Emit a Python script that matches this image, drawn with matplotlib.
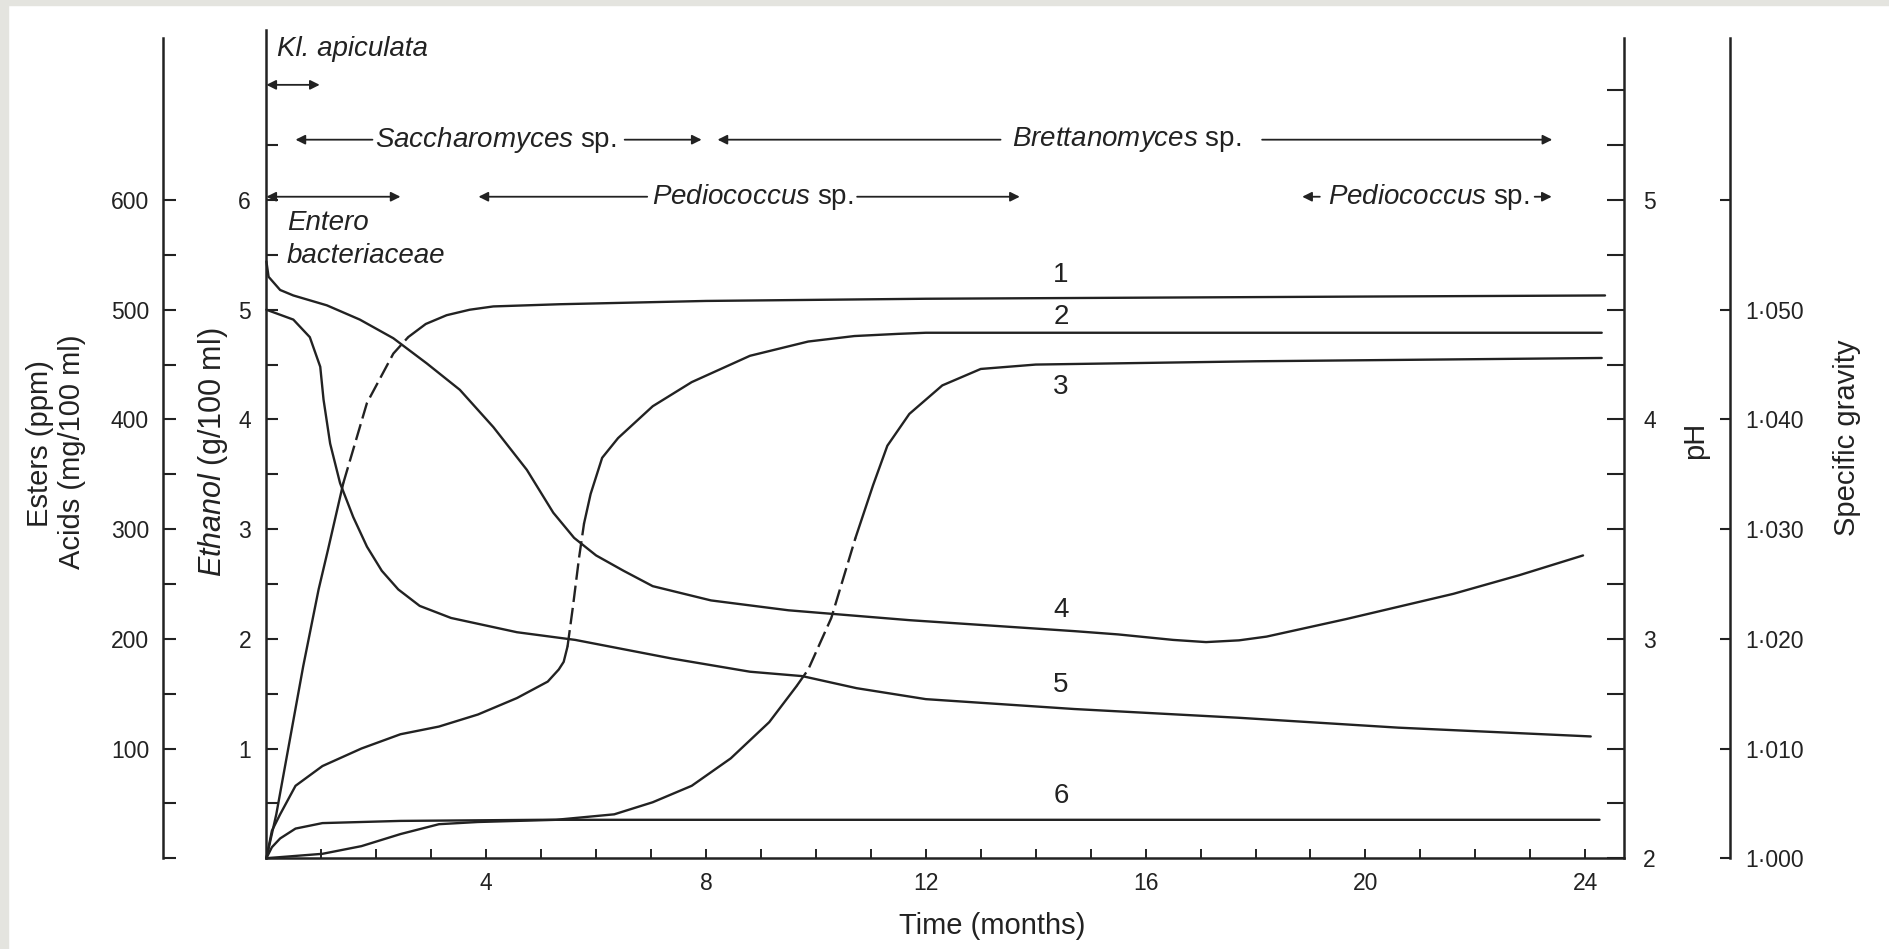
import numpy as np
import matplotlib
matplotlib.use('Agg')
import matplotlib.pyplot as plt
from matplotlib.patches import Rectangle

plt.rcParams['font.family'] = ['Liberation Sans', 'DejaVu Sans']
plt.rcParams['mathtext.fontset'] = 'custom'
plt.rcParams['mathtext.rm'] = 'Liberation Sans'
plt.rcParams['mathtext.it'] = 'Liberation Sans:italic'

INK = '#222222'

# --- data (time in months) ---
# curve 1, ethanol (g/100 ml)
t1 = [0, 0.18, 0.67, 0.95, 1.12, 1.40, 1.83, 2.31, 2.58, 2.9, 3.28, 3.7, 4.13, 5.34, 8, 12, 16, 20, 24.36]
ethanol = [0, 0.40, 1.75, 2.45, 2.81, 3.42, 4.15, 4.60, 4.75, 4.87, 4.95, 5.00, 5.03, 5.05, 5.08, 5.10, 5.11, 5.12, 5.13]

# curves 2, 3 and 6 on the esters / acids scale
t2 = [0, 0.1, 0.25, 0.53, 1.02, 1.73, 2.44, 3.14, 3.85, 4.56, 5.12, 5.32, 5.41, 5.48, 5.58, 5.69, 5.78,
      5.9, 6.11, 6.4, 7.03, 7.74, 8.8, 9.86, 10.7, 11.5, 12, 16, 20, 24.3]
curve2 = [0, 25, 40, 66, 84, 100, 113, 120, 131, 146, 161, 172, 179, 193, 230, 274, 305,
          332, 365, 383, 412, 434, 458, 471, 476, 478, 479, 479, 479, 479]

t3 = [0, 1.02, 1.73, 2.44, 3.14, 3.85, 5.27, 6.33, 7.03, 7.74, 8.45, 9.15, 9.65, 9.86,
      10.28, 10.72, 11.04, 11.3, 11.7, 12.3, 13.0, 14.0, 18, 24.3]
curve3 = [0, 4, 11, 22, 31, 33, 35, 40, 51, 66, 91, 124, 157, 172,
          219, 292, 340, 376, 405, 431, 446, 450, 453, 456]

t6 = [0, 0.1, 0.25, 0.53, 1.02, 2.44, 5, 10, 15, 20, 24.26]
curve6 = [0, 10, 18, 27, 32, 34, 35, 35, 35, 35, 35]

# curve 4, pH
t4 = [0, 0.04, 0.25, 0.49, 1.10, 1.70, 2.31, 2.92, 3.52, 4.13, 4.74, 5.22, 5.6, 6.0, 6.5,
      7.03, 8.09, 9.5, 11.7, 14.7, 15.5, 16.5, 17.1, 17.7, 18.2, 19.65, 21.6, 22.8, 23.96]
ph = [4.72, 4.65, 4.59, 4.565, 4.52, 4.455, 4.37, 4.255, 4.135, 3.965, 3.77, 3.575, 3.46, 3.38, 3.31,
      3.24, 3.175, 3.13, 3.085, 3.035, 3.02, 2.995, 2.985, 2.993, 3.01, 3.09, 3.205, 3.29, 3.38]

# curve 5, specific gravity
t5 = [0, 0.49, 0.79, 0.98, 1.04, 1.16, 1.34, 1.58, 1.83, 2.1, 2.4, 2.79, 3.36, 4.56, 5.62,
      7.38, 8.8, 9.75, 10.74, 12.0, 14.7, 17.7, 20.6, 24.1]
sg = [1.0500, 1.0491, 1.0475, 1.0448, 1.0418, 1.0378, 1.0342, 1.0311, 1.0284, 1.0262, 1.0245, 1.0230, 1.0219, 1.0206, 1.0199,
      1.0182, 1.0170, 1.0166, 1.0155, 1.0145, 1.0136, 1.0128, 1.0119, 1.0111]

curve_labels = ['1', '2', '3', '4', '5', '6']
curve_label_y = [5.32, 4.93, 4.30, 2.26, 1.58, 0.57]   # on ethanol scale

# organisms: (name, text centre, left arrow, right arrow, row)
organisms = [
    ('Saccharomyces', 4.17, (0.53, 1.93), (6.52, 7.92), 6.55),
    ('Brettanomyces', 15.65, (8.21, 13.36), (18.12, 23.40), 6.55),
    ('Pediococcus', 8.85, (3.86, 6.93), (10.75, 13.71), 6.03),
    ('Pediococcus', 21.15, (18.85, 19.17), (23.08, 23.39), 6.03),
]

time_ticks = [4, 8, 12, 16, 20, 24]
sg_ticks = [1.000, 1.010, 1.020, 1.030, 1.040, 1.050, 1.060]
sg_labels = ['1\u00b7000', '1\u00b7010', '1\u00b7020', '1\u00b7030', '1\u00b7040', '1\u00b7050', '']

# ----------------------------------------------------------
fig = plt.figure(figsize=(18.9, 9.49), dpi=100)
fig.patches.append(Rectangle((0, 0), 8 / 1890, 1, transform=fig.transFigure, color='#e4e4df', zorder=0))
fig.patches.append(Rectangle((0, 1 - 5 / 949), 1, 5 / 949, transform=fig.transFigure, color='#e4e4df', zorder=0))

ax = fig.add_axes([0.14095, 0.09568, 0.71815, 0.8726])
ETOP = 7.549
ax.set_xlim(0, 24.7)
ax.set_ylim(0, ETOP)
ax.set_facecolor('none')

ax_acid = ax.twinx()
ax_acid.set_ylim(0, ETOP * 100)
ax_ph = ax.twinx()
ax_ph.set_ylim(2, 2 + ETOP / 2)
ax_sg = ax.twinx()
ax_sg.set_ylim(1.0, 1.0 + ETOP / 100)

for a in (ax, ax_acid, ax_ph, ax_sg):
    for s in a.spines.values():
        s.set_visible(False)
        s.set_linewidth(1.8)
        s.set_color(INK)

ax.spines['left'].set_visible(True)
ax.spines['bottom'].set_visible(True)

ax_acid.spines['left'].set_visible(True)
ax_acid.spines['left'].set_position(('axes', -0.0762))
ax_acid.spines['left'].set_bounds(0, 747.7)
ax_acid.yaxis.set_ticks_position('left')

ax_ph.spines['right'].set_visible(True)
ax_ph.spines['right'].set_bounds(2, 5.738)

ax_sg.spines['right'].set_visible(True)
ax_sg.spines['right'].set_position(('axes', 1.0783))
ax_sg.spines['right'].set_bounds(1.0, 1.07477)

# ticks
ax.set_yticks(range(0, 7))
ax.set_yticklabels([''] + [str(i) for i in range(1, 7)])
ax.set_yticks(np.arange(0.5, 7, 1.0), minor=True)
ax.tick_params(axis='y', which='both', direction='in', length=8.3, width=1.5,
               pad=11, labelsize=16.5, colors=INK)

ax.set_xticks(time_ticks)
ax.set_xticks(range(1, 25), minor=True)
ax.tick_params(axis='x', which='both', direction='in', length=6.5, width=1.4,
               pad=10, labelsize=16.5, colors=INK)

ax_acid.set_yticks(range(0, 700, 100))
ax_acid.set_yticklabels([''] + [str(i) for i in range(100, 700, 100)])
ax_acid.set_yticks(range(50, 600, 100), minor=True)
ax_acid.tick_params(axis='y', which='both', direction='in', length=9.5, width=1.5,
                    pad=10, labelsize=16.5, colors=INK)

ax_ph.set_yticks([2, 3, 4, 5])
ax_ph.set_yticks(np.arange(2.25, 5.6, 0.25), minor=True)
ax_ph.tick_params(axis='y', which='both', direction='in', length=12, width=1.5,
                  pad=14, labelsize=16.5, colors=INK)

ax_sg.set_yticks(sg_ticks)
ax_sg.set_yticklabels(sg_labels)
ax_sg.tick_params(axis='y', which='both', direction='in', length=7.5, width=1.5,
                  pad=11, labelsize=16.5, colors=INK)


# curves
def draw(axis, t, v, dash=None):
    t = np.asarray(t)
    v = np.asarray(v)
    kw = dict(color=INK, lw=1.7, solid_capstyle='round', solid_joinstyle='round', clip_on=False)
    if dash is None:
        axis.plot(t, v, **kw)
        return
    a, b = dash
    m1 = t <= a
    m2 = (t >= a) & (t <= b)
    m3 = t >= b
    axis.plot(t[m1], v[m1], **kw)
    axis.plot(t[m2], v[m2], ls=(0, (7, 2.5)), **kw)
    axis.plot(t[m3], v[m3], **kw)


draw(ax, t1, ethanol, dash=(1.40, 2.58))
draw(ax_acid, t2, curve2, dash=(5.48, 5.78))
draw(ax_acid, t3, curve3, dash=(9.65, 10.72))
draw(ax_acid, t6, curve6)
draw(ax_ph, t4, ph)
draw(ax_sg, t5, sg)

for lab, y in zip(curve_labels, curve_label_y):
    ax.text(14.46, y, lab, ha='center', va='center', fontsize=20, color=INK)

# organism arrows
arrow_kw = dict(arrowstyle='-|>', color=INK, lw=1.3, mutation_scale=14, shrinkA=0, shrinkB=0)
for name, xc, (l0, l1), (r0, r1), row in organisms:
    ax.text(xc, row, r'$\mathit{%s}$ sp.' % name, ha='center', va='center',
            fontsize=20, color=INK)
    ax.annotate('', xy=(l0, row), xytext=(l1, row), arrowprops=arrow_kw, annotation_clip=False)
    ax.annotate('', xy=(r1, row), xytext=(r0, row), arrowprops=arrow_kw, annotation_clip=False)

both_kw = dict(arrowstyle='<|-|>', color=INK, lw=1.3, mutation_scale=14, shrinkA=0, shrinkB=0)
ax.annotate('', xy=(0.97, 7.05), xytext=(0.0, 7.05), arrowprops=both_kw, annotation_clip=False)
ax.annotate('', xy=(2.44, 6.03), xytext=(0.0, 6.03), arrowprops=both_kw, annotation_clip=False)

ax.text(0.2, 7.38, 'Kl. apiculata', style='italic', ha='left', va='center', fontsize=20, color=INK)
ax.text(0.37, 5.79, 'Entero', style='italic', ha='left', va='center', fontsize=20, color=INK)
ax.text(0.37, 5.49, 'bacteriaceae', style='italic', ha='left', va='center', fontsize=20, color=INK)

# axis titles
fig.text(40 / 1890, 1 - 444 / 949, 'Esters (ppm)', rotation=90, ha='center', va='center',
         fontsize=21, color=INK)
fig.text(72 / 1890, 1 - 452 / 949, 'Acids (mg/100 ml)', rotation=90, ha='center', va='center',
         fontsize=21, color=INK)
fig.text(221 / 1890, 1 - 577 / 949, r'$\mathit{Ethanol}$ (g/100 ml)', rotation=90,
         rotation_mode='anchor', ha='left', va='baseline', fontsize=22, color=INK)
fig.text(1695 / 1890, 1 - 440 / 949, 'pH', rotation=90, ha='center', va='center',
         fontsize=21, color=INK)
fig.text(1847 / 1890, 1 - 438 / 949, 'Specific gravity', rotation=90, ha='center', va='center',
         fontsize=21, color=INK)
fig.text(992 / 1890, 1 - 926 / 949, 'Time (months)', ha='center', va='center',
         fontsize=21, color=INK)

fig.savefig('out.png', dpi=100, facecolor='white')
